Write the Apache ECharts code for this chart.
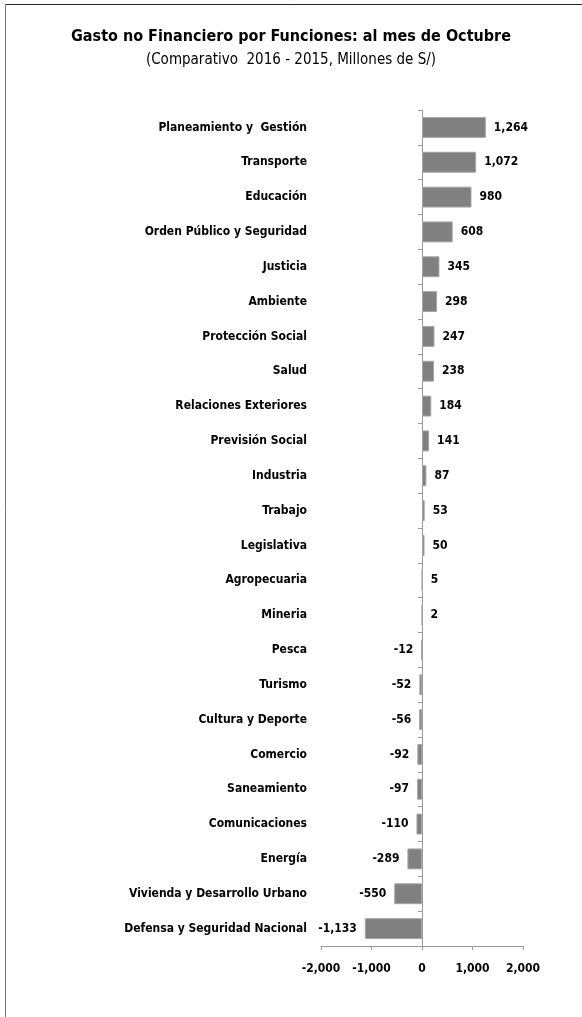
<!DOCTYPE html>
<html>
<head>
<meta charset="utf-8">
<script src="https://cdn.jsdelivr.net/npm/echarts@6/dist/echarts.min.js"></script>
<style>
  html, body { margin: 0; padding: 0; background: #fff; }
  #chart { width: 582px; height: 1017px; }
</style>
</head>
<body>
<div id="chart"></div>
<script>
// categorias (de arriba hacia abajo)
const categories = [
  'Planeamiento y  Gestión', 'Transporte', 'Educación', 'Orden Público y Seguridad',
  'Justicia', 'Ambiente', 'Protección Social', 'Salud', 'Relaciones Exteriores',
  'Previsión Social', 'Industria', 'Trabajo', 'Legislativa', 'Agropecuaria', 'Mineria',
  'Pesca', 'Turismo', 'Cultura y Deporte', 'Comercio', 'Saneamiento', 'Comunicaciones',
  'Energía', 'Vivienda y Desarrollo Urbano', 'Defensa y Seguridad Nacional'
]

// variacion 2016 - 2015, millones de S/
const values = [
  1264, 1072, 980, 608, 345, 298, 247, 238, 184, 141, 87, 53, 50, 5, 2,
  -12, -52, -56, -92, -97, -110, -289, -550, -1133
]

const FONT = "'Liberation Sans Narrow', 'DejaVu Sans Condensed', sans-serif"
const fmt = v => v.toLocaleString('en-US')

const chart = echarts.init(document.getElementById('chart'))

chart.setOption({
  animation: false,
  title: [
    {
      text: 'Gasto no Financiero por Funciones: al mes de Octubre',
      left: 'center',
      top: 24,
      textStyle: { fontFamily: FONT, fontSize: 16, fontWeight: 'bold', color: '#000' }
    },
    {
      text: '(Comparativo  2016 - 2015, Millones de S/)',
      left: 'center',
      top: 48,
      textStyle: { fontFamily: FONT, fontSize: 15, fontWeight: 'normal', color: '#000' }
    }
  ],
  graphic: [
    { type: 'line', shape: { x1: 5, y1: 4.5, x2: 582, y2: 4.5 }, style: { stroke: '#222', lineWidth: 1 } },
    { type: 'line', shape: { x1: 5.5, y1: 4, x2: 5.5, y2: 1017 }, style: { stroke: '#777', lineWidth: 1 } }
  ],
  grid: { left: 321, right: 59, top: 110, bottom: 71 },
  xAxis: {
    type: 'value',
    min: -2000,
    max: 2000,
    interval: 1000,
    splitLine: { show: false },
    axisLine: { show: true, lineStyle: { color: '#999' } },
    axisTick: { show: true, length: 4, lineStyle: { color: '#999' } },
    axisLabel: {
      margin: 17,
      fontFamily: FONT,
      fontSize: 12,
      fontWeight: 'bold',
      color: '#000',
      formatter: v => fmt(v)
    }
  },
  yAxis: {
    type: 'category',
    data: categories,
    inverse: true,
    axisLine: { onZero: true, lineStyle: { color: '#999' } },
    axisTick: { show: true, length: 4, lineStyle: { color: '#999' } },
    axisLabel: {
      margin: 14,
      fontFamily: FONT,
      fontSize: 12,
      fontWeight: 'bold',
      color: '#000'
    }
  },
  series: [
    {
      type: 'bar',
      data: values.map(v => ({
        value: v,
        label: { position: v < 0 ? 'left' : 'right' }
      })),
      barWidth: '60%',
      itemStyle: { color: '#808080', borderColor: '#a6a6a6', borderWidth: 1 },
      label: {
        show: true,
        distance: 8,
        fontFamily: FONT,
        fontSize: 12,
        fontWeight: 'bold',
        color: '#000',
        formatter: p => fmt(p.value)
      }
    }
  ]
})
</script>
</body>
</html>
